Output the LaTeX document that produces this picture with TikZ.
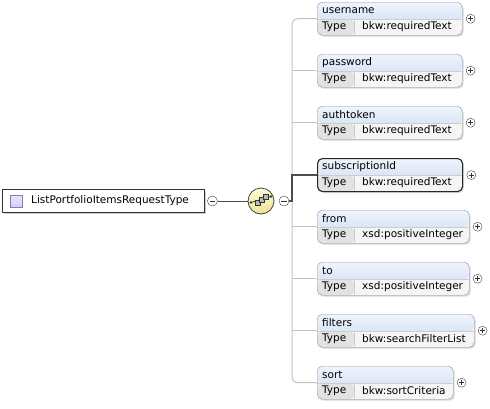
\documentclass[tikz,border=0pt]{standalone}
\usepackage{fontspec}
\setmainfont{DejaVu Sans}
\usetikzlibrary{positioning,shadows}
\definecolor{boxline}{RGB}{150,150,150}
\definecolor{hdrtop}{RGB}{240,245,253}
\definecolor{hdrbot}{RGB}{198,214,240}
\definecolor{typecell}{RGB}{226,226,226}
\definecolor{valcell}{RGB}{245,245,245}
\definecolor{cellline}{RGB}{205,205,205}
\definecolor{linkgray}{RGB}{195,195,195}
\definecolor{seqtop}{RGB}{255,252,215}
\definecolor{seqbot}{RGB}{238,226,150}
\definecolor{iconfill}{RGB}{214,204,240}
\definecolor{iconline}{RGB}{140,120,185}

% one element of the sequence: [extra style]{name}{top}{width}{label}{type}
\newcommand{\elem}[6][]{%
  \node[elembox,#1,minimum width=#4] (#2) at (317,#3) {};
  \node[elemtext] (#2-name) at ([xshift=5pt,yshift=-8.5pt]#2.north west) {#5};
  \node[elemtext] (#2-type) at ([xshift=5pt,yshift=-25pt]#2.north west) {Type};
  \node[elemtext] (#2-val) at ([xshift=45pt,yshift=-25pt]#2.north west) {#6};
  \node[plusbox, right=3.5pt of #2] (#2-plus) {};
}

\begin{document}
\begin{tikzpicture}[x=1pt,y=-1pt,
  elembox/.style={
    rectangle,
    rounded corners=5pt,
    draw=boxline,
    fill=valcell,
    minimum height=33pt,
    inner sep=0pt,
    anchor=north west,
    drop shadow={shadow xshift=1.5pt,shadow yshift=-1.5pt,opacity=.3},
    path picture={
      \fill[top color=hdrtop,bottom color=hdrbot]
        (path picture bounding box.north west) rectangle
        ([yshift=-17pt]path picture bounding box.north east);
      \fill[typecell]
        ([yshift=-17pt]path picture bounding box.north west) rectangle
        ([xshift=37pt]path picture bounding box.south west);
      \draw[cellline]
        ([yshift=-17pt]path picture bounding box.north west) --
        ([yshift=-17pt]path picture bounding box.north east);
      \draw[cellline]
        ([xshift=37pt,yshift=-17pt]path picture bounding box.north west) --
        ([xshift=37pt]path picture bounding box.south west);
    }
  },
  selbox/.style={draw=black!85, line width=1.1pt},
  elemtext/.style={
    anchor=west,
    inner sep=0pt,
    font=\fontsize{10.5}{12}\selectfont
  },
  rootbox/.style={
    rectangle,
    draw=black!80,
    fill=white,
    minimum width=202pt,
    minimum height=23pt,
    drop shadow={shadow xshift=1.5pt,shadow yshift=-1.5pt,opacity=.4}
  },
  rooticon/.style={
    rectangle,
    draw=iconline,
    top color=iconfill!50,
    bottom color=iconfill,
    minimum size=12pt,
    inner sep=0pt
  },
  signbox/.style={
    circle,
    draw=black!75,
    fill=white,
    minimum size=10pt,
    inner sep=0pt
  },
  minusbox/.style={
    signbox,
    path picture={
      \draw[black!80,line width=.7pt]
        ([xshift=2.2pt]path picture bounding box.west) --
        ([xshift=-2.2pt]path picture bounding box.east);
    }
  },
  plusbox/.style={
    signbox,
    minimum size=9pt,
    path picture={
      \draw[black!80,line width=.7pt]
        ([xshift=2pt]path picture bounding box.west) --
        ([xshift=-2pt]path picture bounding box.east);
      \draw[black!80,line width=.7pt]
        ([yshift=2pt]path picture bounding box.south) --
        ([yshift=-2pt]path picture bounding box.north);
    }
  },
  seqbox/.style={
    circle,
    draw=black!75,
    line width=.8pt,
    top color=seqtop,
    bottom color=seqbot,
    minimum size=26pt,
    inner sep=0pt
  },
  linkline/.style={draw=linkgray, line width=1pt},
  activeline/.style={draw=black!70, line width=1.4pt}
  ]
  \useasboundingbox (0,0) rectangle (490,408);

  % root type
  \node[rootbox] (root) at (103,201) {};
  \node[rooticon] (rooticon) at ([xshift=14pt]root.west) {};
  \node[elemtext, right=9pt of rooticon] (rootlabel) {ListPortfolioItemsRequestType};
  \node[minusbox, right=3pt of root] (rootminus) {};

  % sequence
  \node[seqbox] (seq) at (261,201) {};
  \node[minusbox] (seqminus) at (284,201) {};
  \coordinate (spine) at (292,201);
  \begin{scope}[shift={(seq.center)}]
    \draw[black!80, line width=.7pt] (-10,1.5) -- (10,-4.5);
    \fill[black!80] (-10,1.5) circle (1.3) (10,-4.5) circle (1.3);
    \filldraw[fill=gray!55, draw=black!80, line width=.5pt] (-6,-1) rectangle (-1,4);
    \filldraw[fill=gray!55, draw=black!80, line width=.5pt] (-2,-4) rectangle (3,1);
    \filldraw[fill=gray!55, draw=black!80, line width=.5pt] (2,-7) rectangle (7,-2);
  \end{scope}

  % elements
  \elem{username}{2}{145pt}{username}{bkw:requiredText}
  \elem{password}{54}{145pt}{password}{bkw:requiredText}
  \elem{authtoken}{106}{145pt}{authtoken}{bkw:requiredText}
  \elem[selbox]{subscriptionId}{158}{145pt}{subscriptionId}{bkw:requiredText}
  \elem{from}{210}{152pt}{from}{xsd:positiveInteger}
  \elem{to}{262}{152pt}{to}{xsd:positiveInteger}
  \elem{filters}{314}{157pt}{filters}{bkw:searchFilterList}
  \elem{sort}{366}{136pt}{sort}{bkw:sortCriteria}

  % connectors
  \draw[linkline, rounded corners=6pt] (username.west) -| (spine) |- (sort.west);
  \draw[linkline] (password.west) -- (password.west -| spine);
  \draw[linkline] (authtoken.west) -- (authtoken.west -| spine);
  \draw[linkline] (from.west) -- (from.west -| spine);
  \draw[linkline] (to.west) -- (to.west -| spine);
  \draw[linkline] (filters.west) -- (filters.west -| spine);
  \draw[draw=black!70, line width=1pt] (rootminus) -- (seq);
  \draw[activeline] (seqminus) -- (spine) |- (subscriptionId.west);
\end{tikzpicture}
\end{document}
